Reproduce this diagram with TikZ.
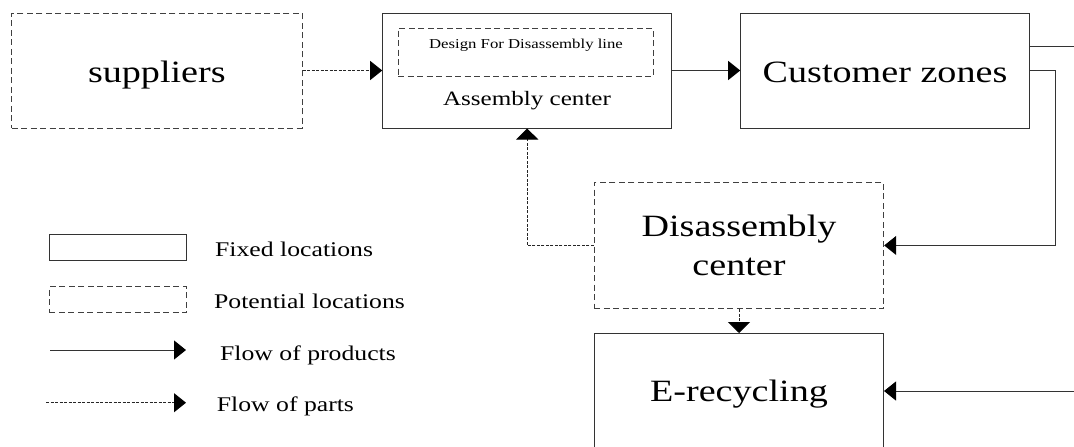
\documentclass[tikz,border=0pt]{standalone}
\usepackage{fontspec}
\setmainfont[FakeStretch=1.23]{Liberation Serif}
\usetikzlibrary{arrows.meta}
\tikzset{
  fixedbox/.style={draw=black!80, line width=1pt, inner sep=0pt, rectangle},
  potbox/.style={draw=black!75, line width=1pt, dash pattern=on 6pt off 3.5pt, inner sep=0pt, rectangle},
  big/.style={font=\fontsize{31}{39}\selectfont},
  txt/.style={inner sep=0pt},
  legendtxt/.style={inner sep=0pt, anchor=base west, font=\fontsize{20.9}{25}\selectfont},
  prod/.style={draw=black!80, line width=1pt, -{Triangle[length=12pt,width=19pt,fill=black,color=black]}},
  plainline/.style={draw=black!80, line width=1pt},
  parts/.style={draw=black!85, line width=0.9pt, dash pattern=on 3pt off 1.5pt, -{Triangle[length=12pt,width=19pt,fill=black,color=black]}},
  vtip/.style={-{Triangle[length=11pt,width=22pt,fill=black,color=black]}},
}
\begin{document}
\begin{tikzpicture}[x=1pt,y=-1pt]
\useasboundingbox (0,0) rectangle (1074,447);
\fill[white] (0,0) rectangle (1074,447);
\clip (0,0) rectangle (1074,447);

% main boxes
\node[potbox, big, minimum width=290.3pt, minimum height=115pt, text height=23pt, text depth=0pt] (sup) at (156.85,70.5) {suppliers};
\node[fixedbox, minimum width=289pt, minimum height=115pt] (asm) at (527.2,70.5) {};
\node[potbox, minimum width=255pt, minimum height=48pt] (dfd) at (525.5,52) {};
\node[txt, anchor=base, font=\fontsize{13.6}{16}\selectfont] (dfdtext) at (526,48) {Design For Disassembly line};
\node[txt, anchor=base, font=\fontsize{20.4}{24}\selectfont] (asmtext) at (527,105) {Assembly center};
\node[fixedbox, big, minimum width=288.6pt, minimum height=115pt, text height=23pt, text depth=0pt] (cus) at (885,70.5) {Customer zones};
\node[potbox, minimum width=289.4pt, minimum height=126.3pt] (dis) at (739,245.45) {};
\node[txt, big, anchor=base] (dist1) at (739,236.5) {Disassembly};
\node[txt, big, anchor=base] (dist2) at (739,275.7) {center};
\node[fixedbox, big, minimum width=289pt, minimum height=115pt, text height=21.7pt, text depth=0pt] (erc) at (739,391) {E-recycling};

% connectors
\draw[parts] (sup.east) -- (asm.west);
\draw[prod] (asm.east) -- (cus.west);
\coordinate (offtop) at (1080,46.7);
\draw[plainline] (cus.east |- offtop) -- (offtop);
\coordinate (bend) at (1055,70.5);
\draw[prod] (cus.east) -- (bend) |- (dis.east);
\draw[parts, vtip] (dis.west) -| (asm.south);
\draw[parts, vtip] (dis.south) -- (erc.north);
\coordinate (offbot) at (1080,391);
\draw[prod] (offbot) -- (erc.east);

% legend
\node[fixedbox, minimum width=137.4pt, minimum height=26pt] (lgfix) at (118,247) {};
\node[potbox, minimum width=137.4pt, minimum height=26pt] (lgpot) at (118,299.7) {};
\coordinate (lgp1) at (50,350);
\coordinate (lgp2) at (186,350);
\draw[prod] (lgp1) -- (lgp2);
\coordinate (lgq1) at (46,402.7);
\coordinate (lgq2) at (186,402.7);
\draw[parts] (lgq1) -- (lgq2);
\node[legendtxt] (lt1) at (215,256) {Fixed locations};
\node[legendtxt] (lt2) at (214,308.3) {Potential locations};
\node[legendtxt] (lt3) at (220,360) {Flow of products};
\node[legendtxt] (lt4) at (216.7,411.7) {Flow of parts};
\end{tikzpicture}
\end{document}
